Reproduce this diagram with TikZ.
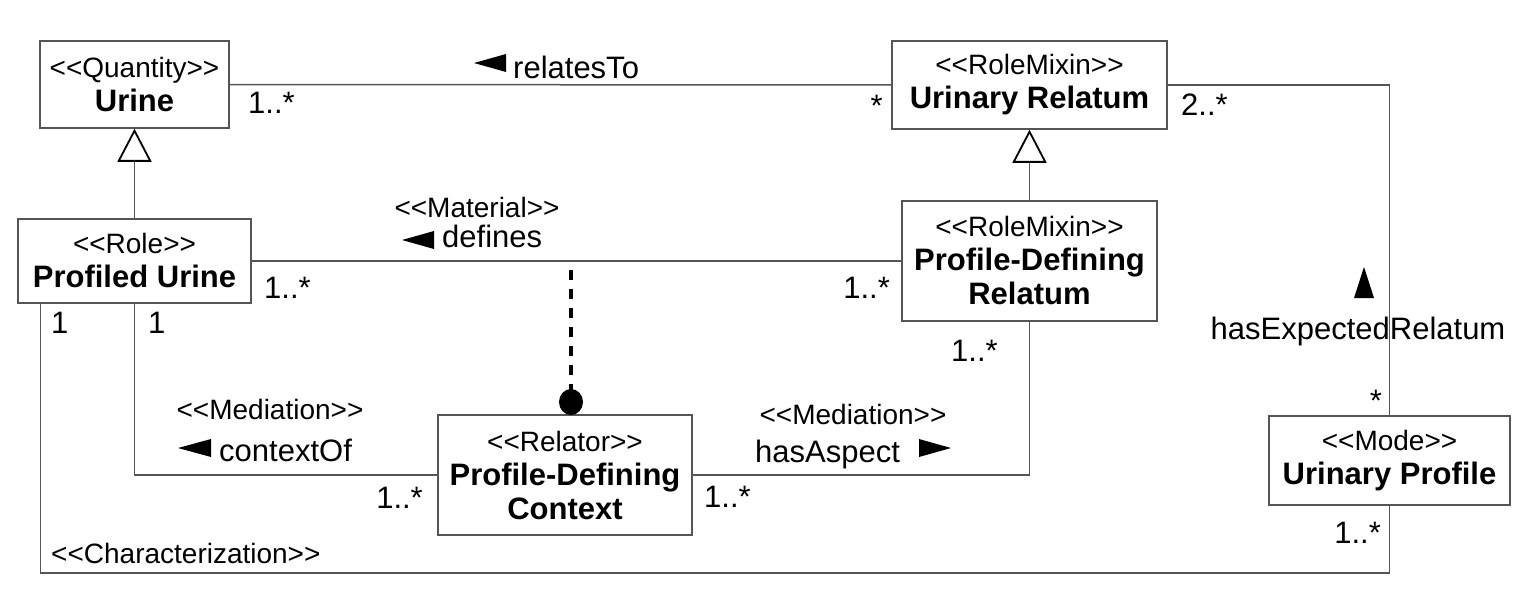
\documentclass[tikz,border=0pt]{standalone}
\usepackage{fontspec}
\setmainfont{Liberation Sans}
\usetikzlibrary{arrows.meta,calc,shapes.geometric}
\definecolor{lc}{RGB}{85,85,85}
\newcommand\sopen{<\kern0pt<}
\newcommand\sclose{>\kern0pt>}
\newcommand\clsname[1]{{\fontsize{31}{34}\selectfont\bfseries #1}}
\begin{document}
\begin{tikzpicture}[x=1pt,y=-1pt,
  cls/.style={draw=lc,line width=1.5pt,inner sep=0pt,align=center,font=\fontsize{28}{34}\selectfont},
  conn/.style={draw=lc,line width=1.5pt},
  gen/.style={conn,-{Triangle[open,length=33pt,width=34pt,line width=1.8pt,color=black]}},
  lbl/.style={inner sep=0pt,font=\fontsize{31}{34}\selectfont},
  st/.style={inner sep=0pt,font=\fontsize{28}{34}\selectfont},
  dirmark/.style={fill=black}
]
\useasboundingbox (0,0) rectangle (1538,610);

% classes
\node[cls,minimum width=189pt,minimum height=87pt] (urine) at (134.5,84.5) {\sopen Quantity\sclose\\\clsname{Urine}};
\node[cls,minimum width=275pt,minimum height=88pt] (ur) at (1029.5,85) {\sopen RoleMixin\sclose\\\clsname{Urinary Relatum}};
\node[cls,minimum width=233pt,minimum height=84pt] (pu) at (134.5,261) {\sopen Role\sclose\\\clsname{Profiled Urine}};
\node[cls,minimum width=255pt,minimum height=120pt] (pdr) at (1029.5,261) {\sopen RoleMixin\sclose\\\clsname{Profile-Defining}\\\clsname{Relatum}};
\node[cls,minimum width=254pt,minimum height=120pt] (pdc) at (565,475) {\sopen Relator\sclose\\\clsname{Profile-Defining}\\\clsname{Context}};
\node[cls,minimum width=241pt,minimum height=89pt] (up) at (1389.5,460.5) {\sopen Mode\sclose\\\clsname{Urinary Profile}};

% connectors
\draw[conn] (urine.east) -- (ur.west);
\draw[gen] (pu.north) -- (urine.south);
\draw[gen] (pdr.north) -- (ur.south);
\draw[conn] (pu.east) -- (pdr.west);
\coordinate (dtop) at (571,270);
\node[ellipse,fill=black,inner sep=0pt,minimum width=24pt,minimum height=26pt] (dot) at (571,402) {};
\draw[line width=4pt,dash pattern=on 10pt off 9pt] (dtop) -- (dot.center);
\draw[conn] (pu.south) |- (pdc.west);
\draw[conn] (pdc.east) -| (pdr.south);
\draw[conn] ([xshift=23pt]pu.south west) |- ([yshift=-67pt]up.south) -- (up.south);
\draw[conn] (ur.east) -| (up.north);

% direction marks
\fill[dirmark] (474,63) -- (506,54) -- (506,72) -- cycle;
\fill[dirmark] (402,240) -- (434,231) -- (434,249) -- cycle;
\fill[dirmark] (178,448) -- (211,439) -- (211,457) -- cycle;
\fill[dirmark] (951,448) -- (919,439) -- (919,457) -- cycle;
\fill[dirmark] (1364,267) -- (1354,298) -- (1374,298) -- cycle;

% labels
\node[lbl,anchor=base west] (lrel) at (513,78) {relatesTo};
\node[lbl,anchor=base west] (m1) at (248,113) {1..*};
\node[lbl,anchor=base east] (m2) at (883,116) {*};
\node[lbl,anchor=base west] (m3) at (1181,115) {2..*};
\node[st,anchor=base] (smat) at (477,217) {\sopen Material\sclose};
\node[lbl,anchor=base west] (ldef) at (442,247) {defines};
\node[lbl,anchor=base west] (m4) at (264,298) {1..*};
\node[lbl,anchor=base east] (m5) at (890,298) {1..*};
\node[lbl,anchor=base west] (m6) at (951,361) {1..*};
\node[lbl,anchor=base west] (m7) at (51,333) {1};
\node[lbl,anchor=base west] (m8) at (148,333) {1};
\node[st,anchor=base] (smed1) at (270,419) {\sopen Mediation\sclose};
\node[lbl,anchor=base west] (lctx) at (219,461) {contextOf};
\node[lbl,anchor=base east] (m9) at (423,508) {1..*};
\node[lbl,anchor=base west] (m10) at (704,507) {1..*};
\node[st,anchor=base] (smed2) at (853,424) {\sopen Mediation\sclose};
\node[lbl,anchor=base west] (lasp) at (755,462) {hasAspect};
\node[st,anchor=base west] (schar) at (51,563) {\sopen Characterization\sclose};
\node[lbl,anchor=base east] (m11) at (1381,543) {1..*};
\node[lbl,anchor=base east] (m12) at (1382,411) {*};
\node[lbl,anchor=base] (lexp) at (1358,339) {hasExpectedRelatum};
\end{tikzpicture}
\end{document}
